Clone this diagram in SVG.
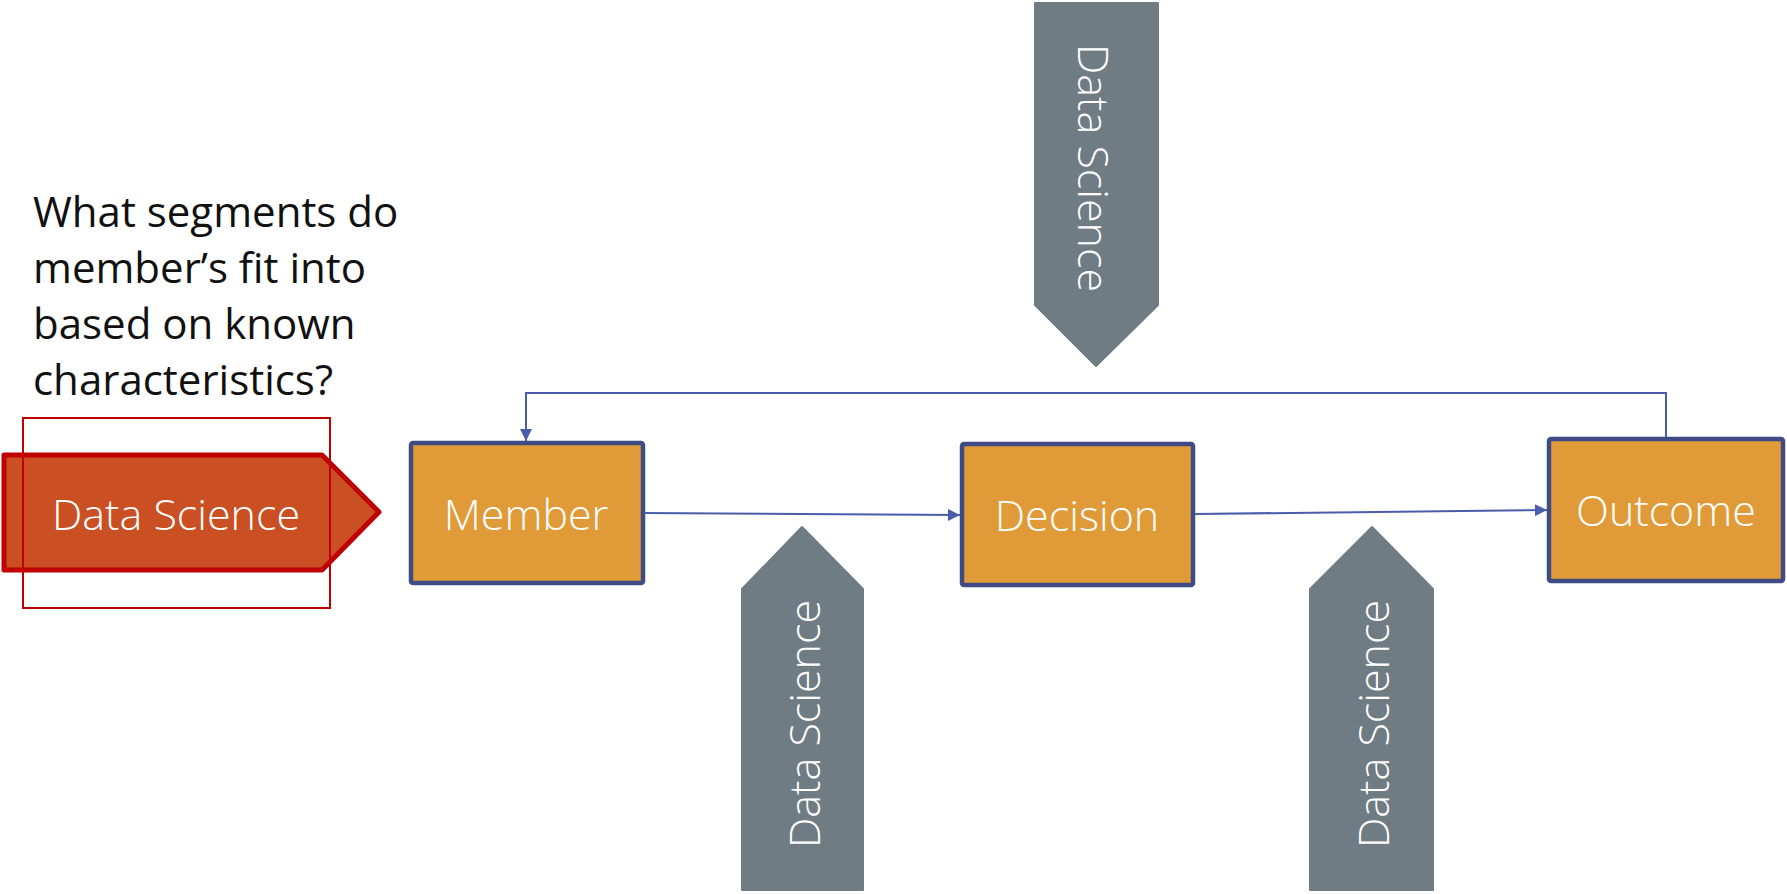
<svg xmlns="http://www.w3.org/2000/svg" width="1787" height="894" viewBox="0 0 1787 894">
  <defs>
    <marker id="arrow" viewBox="0 0 10 10" refX="10" refY="5" markerWidth="6" markerHeight="6" markerUnits="strokeWidth" orient="auto">
      <path d="M0,0 L10,5 L0,10 z" fill="#4A5DAB"/>
    </marker>
    <style>
      .box { fill: #E09B38; stroke: #3E4B85; stroke-width: 4.5; }
      .lbl { font-family: "Open Sans", "Liberation Sans", sans-serif; font-weight: 300; font-size: 43px; fill: #ffffff; text-anchor: middle; }
      .tab { fill: #6F7C84; stroke: #6F7C84; stroke-width: 2; stroke-linejoin: round; }
      .link { fill: none; stroke: #4A5DAB; stroke-width: 2; marker-end: url(#arrow); }
      .q { font-family: "Open Sans", "Liberation Sans", sans-serif; font-size: 42px; fill: #111111; }
    </style>
  </defs>
  <rect width="1787" height="894" fill="#ffffff"/>

  <!-- question -->
  <g id="question">
    <text class="q" x="33" y="227">What segments do</text>
    <text class="q" x="33" y="283">member’s fit into</text>
    <text class="q" x="33" y="339">based on known</text>
    <text class="q" x="33" y="395">characteristics?</text>
  </g>

  <!-- highlighted Data Science step -->
  <g id="ds-highlight">
    <path d="M4,455 L322,455 L379,512 L322,570 L4,570 Z" fill="#CA5024" stroke="#C00000" stroke-width="5" stroke-linejoin="round"/>
    <rect x="23" y="418" width="307" height="190" fill="none" stroke="#C00000" stroke-width="2"/>
    <text class="lbl" x="176" y="530">Data Science</text>
  </g>

  <!-- process nodes -->
  <g id="member">
    <rect class="box" x="411" y="443" width="232" height="140" rx="2"/>
    <text class="lbl" x="526" y="530">Member</text>
  </g>
  <g id="decision">
    <rect class="box" x="962" y="444" width="231" height="141" rx="2"/>
    <text class="lbl" x="1077" y="531">Decision</text>
  </g>
  <g id="outcome">
    <rect class="box" x="1549" y="439" width="234" height="142" rx="2"/>
    <text class="lbl" x="1666" y="526">Outcome</text>
  </g>

  <!-- gray Data Science tabs -->
  <g id="ds-top">
    <path class="tab" d="M1035,3 L1158,3 L1158,305 L1096,366 L1035,305 Z"/>
    <text class="lbl" x="1094" y="184" transform="rotate(90 1094 168)">Data Science</text>
  </g>
  <g id="ds-bottom-1">
    <path class="tab" d="M742,890 L742,589 L802,527 L863,589 L863,890 Z"/>
    <text class="lbl" x="804" y="740" transform="rotate(-90 804 724)">Data Science</text>
  </g>
  <g id="ds-bottom-2">
    <path class="tab" d="M1310,890 L1310,589 L1372,527 L1433,589 L1433,890 Z"/>
    <text class="lbl" x="1373" y="740" transform="rotate(-90 1373 724)">Data Science</text>
  </g>

  <!-- connectors -->
  <g id="connectors">
    <path class="link" d="M644,513 L960,515"/>
    <path class="link" d="M1195,514 L1547,510"/>
    <path class="link" d="M1666,437 L1666,393 L526,393 L526,441"/>
  </g>
</svg>
